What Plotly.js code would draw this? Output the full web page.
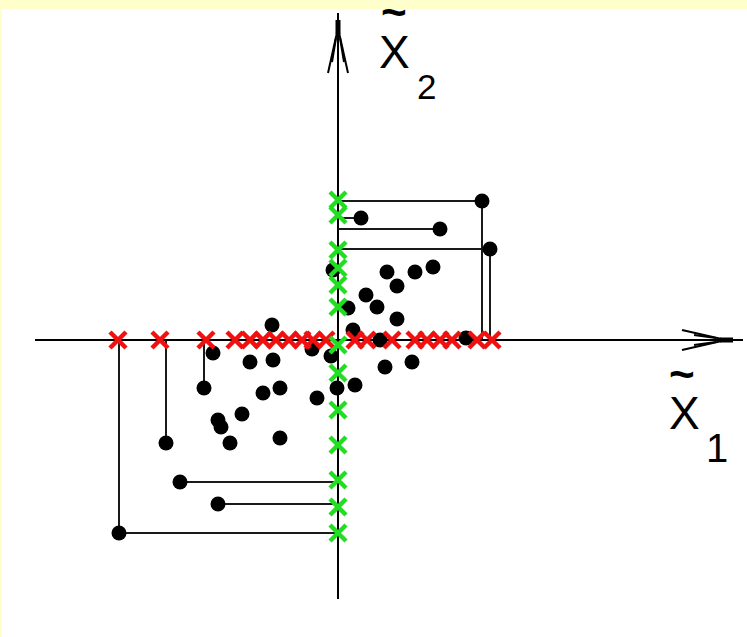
<!DOCTYPE html>
<html>
<head>
<meta charset="utf-8">
<script src="https://cdn.plot.ly/plotly-3.0.1.min.js"></script>
<style>
  html, body { margin: 0; padding: 0; background: #FFFFCC; }
  #chart { width: 747px; height: 637px; }
</style>
</head>
<body>
<div id="chart"></div>
<script>
// Sample points in the rotated (x~1, x~2) frame
const pointX = [1.44, 0.23, 1.02, 1.52, -0.05, 0.49, 0.77, 0.95, 0.59, 0.28, 0.39, 0.10, 0.59, 0.15, 0.42, 1.28,
                0.47, 0.74, -0.01, 0.17, -0.66, -1.25, -0.88, -0.65, -1.34, -0.75, -0.58, -0.21, -1.20, -1.17,
                -0.96, -1.08, -0.58, -1.72, -1.58, -1.20, -2.19, -0.26, -0.07];
const pointY = [1.39, 1.22, 1.11, 0.91, 0.70, 0.68, 0.68, 0.73, 0.54, 0.45, 0.33, 0.32, 0.21, 0.10, 0.00, 0.02,
                -0.27, -0.22, -0.48, -0.45, 0.15, -0.13, -0.22, -0.20, -0.48, -0.53, -0.48, -0.58, -0.80, -0.87,
                -0.74, -1.03, -0.98, -1.03, -1.42, -1.64, -1.93, -0.09, -0.16];

// Points whose projection onto each axis is drawn as a guide line
const dropToX1 = [0, 3, 24, 33, 36];
const dropToX2 = [0, 1, 2, 3, 34, 35, 36];

// Projections onto the x~1 axis (red) and the x~2 axis (green)
const projX1 = [-2.20, -1.78, -1.32, -1.03, -0.88, -0.75, -0.62, -0.49, -0.36, -0.25, -0.12,
                0.17, 0.29, 0.54, 0.77, 0.89, 1.02, 1.14, 1.39, 1.54];
const projX2 = [1.40, 1.25, 0.90, 0.72, 0.55, 0.33, -0.05, -0.33, -0.70, -1.05, -1.40, -1.67, -1.93];

// Axis labels
const axisLabel1 = {main: 'X', tilde: '~', sub: '1'};
const axisLabel2 = {main: 'X', tilde: '~', sub: '2'};

// Guide lines from a point to its axis projection
const guideX = [], guideY = [];
dropToX1.forEach(i => { guideX.push(pointX[i], pointX[i], null); guideY.push(pointY[i], 0, null); });
dropToX2.forEach(i => { guideX.push(pointX[i], 0, null); guideY.push(pointY[i], pointY[i], null); });

const traces = [
  {
    x: guideX, y: guideY, mode: 'lines', type: 'scatter',
    line: {color: '#1a1a1a', width: 2}, hoverinfo: 'skip'
  },
  {
    x: pointX, y: pointY, mode: 'markers', type: 'scatter',
    marker: {symbol: 'circle', size: 15, color: '#000000'}
  },
  {
    x: projX1, y: projX1.map(() => 0), mode: 'markers', type: 'scatter',
    marker: {symbol: 'x-thin', size: 16, color: '#f01010', line: {color: '#f01010', width: 4.5}}
  },
  {
    x: projX2.map(() => 0), y: projX2, mode: 'markers', type: 'scatter',
    marker: {symbol: 'x-thin', size: 16, color: '#22dd22', line: {color: '#22dd22', width: 4.5}}
  }
];

// Axis lines with open arrowheads
function seg(x0, y0, x1, y1, w) {
  return {type: 'line', xref: 'x', yref: 'y', x0, y0, x1, y1, layer: 'below',
          line: {color: '#000000', width: w || 2}};
}
const shapes = [
  seg(-3.03, 0, 4.05, 0, 2),
  seg(0, -2.59, 0, 3.27, 2),
  // vertical arrowhead
  seg(0, 3.06, 0, 3.20, 5),
  seg(0, 3.12, -0.10, 2.67, 2),
  seg(0, 3.12, 0.10, 2.67, 2),
  seg(-0.02, 3.02, -0.06, 2.78, 2),
  seg(0.02, 3.02, 0.06, 2.78, 2),
  // horizontal arrowhead
  seg(3.82, 0, 3.95, 0, 5),
  seg(3.88, 0, 3.44, 0.10, 2),
  seg(3.88, 0, 3.44, -0.10, 2),
  seg(3.78, 0.02, 3.56, 0.05, 2),
  seg(3.78, -0.02, 3.56, -0.05, 2)
];

// Labels are placed in pixel terms relative to the page
const W = 747, H = 637, ML = 2, MT = 9;
function label(text, px, py, size, weight) {
  return {text, x: (px - ML) / (W - ML), y: (H - py) / (H - MT), xref: 'paper', yref: 'paper',
          showarrow: false, xanchor: 'center', yanchor: 'middle',
          font: {family: 'Liberation Sans, Arial, sans-serif', color: '#000000', size,
                 weight: weight || 'normal'}};
}
const annotations = [
  label(axisLabel2.tilde, 394, 11, 44, 'bold'),
  label(axisLabel2.main, 395, 52, 46),
  label(axisLabel2.sub, 426, 87, 35),
  label(axisLabel1.tilde, 682, 374, 44, 'bold'),
  label(axisLabel1.main, 684, 413, 46),
  label(axisLabel1.sub, 717, 448, 40)
];

const layout = {
  width: W, height: H,
  margin: {l: ML, t: MT, r: 0, b: 0, pad: 0},
  paper_bgcolor: '#FFFFCC',
  plot_bgcolor: '#FFFFFF',
  showlegend: false,
  xaxis: {range: [-3.36, 4.09], visible: false, fixedrange: true},
  yaxis: {range: [-2.97, 3.31], visible: false, fixedrange: true},
  shapes, annotations
};

Plotly.newPlot('chart', traces, layout, {displayModeBar: false, staticPlot: true});
</script>
</body>
</html>
